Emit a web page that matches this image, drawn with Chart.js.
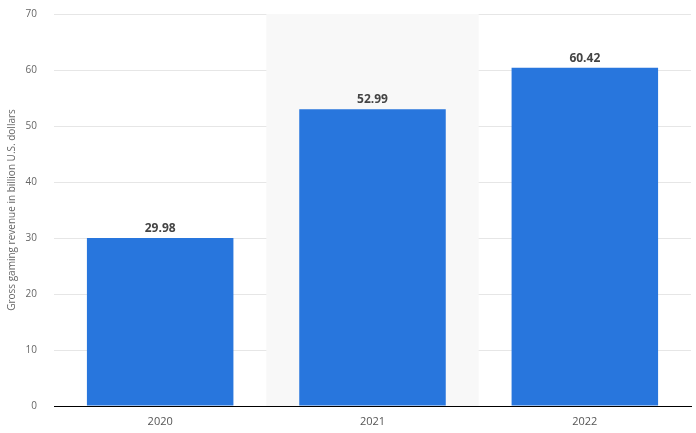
<!DOCTYPE html>
<html>
<head>
<meta charset="utf-8">
<script src="https://cdn.jsdelivr.net/npm/chart.js@4/dist/chart.umd.min.js"></script>
<style>
  html, body { margin: 0; padding: 0; background: #fff; }
  #wrap { width: 696px; height: 433px; }
</style>
</head>
<body>
<div id="wrap"><canvas id="chart"></canvas></div>
<script>
  const years = ["2020", "2021", "2022"];
  const revenue = [29.98, 52.99, 60.42];
  const shadedYear = "2021";

  // light background band behind one category
  const bandPlugin = {
    id: "band",
    beforeDatasetsDraw(chart) {
      const x = chart.scales.x;
      const area = chart.chartArea;
      const i = years.indexOf(shadedYear);
      if (i < 0) return;
      const step = x.getPixelForValue(1) - x.getPixelForValue(0);
      const cx = x.getPixelForValue(i);
      const ctx = chart.ctx;
      ctx.save();
      ctx.fillStyle = "#f8f8f8";
      ctx.fillRect(cx - step / 2, area.top, step, area.bottom - area.top);
      ctx.restore();
    },
  };

  // value labels above each bar
  const labelPlugin = {
    id: "valueLabels",
    afterDatasetsDraw(chart) {
      const ctx = chart.ctx;
      const meta = chart.getDatasetMeta(0);
      ctx.save();
      ctx.font = "bold 12px 'Open Sans', sans-serif";
      ctx.fillStyle = "#444";
      ctx.textAlign = "center";
      ctx.textBaseline = "alphabetic";
      meta.data.forEach((bar, i) => {
        ctx.fillText(revenue[i].toFixed(2), bar.x, bar.y - 6);
      });
      ctx.restore();
    },
  };

  new Chart(document.getElementById("chart"), {
    type: "bar",
    data: {
      labels: years,
      datasets: [
        {
          data: revenue,
          backgroundColor: "#2876dd",
          borderWidth: 0,
          categoryPercentage: 1,
          barPercentage: 0.69,
        },
      ],
    },
    options: {
      responsive: true,
      maintainAspectRatio: false,
      animation: false,
      layout: { padding: { top: 14, right: 5, left: 0, bottom: 0 } },
      plugins: { legend: { display: false }, tooltip: { enabled: false } },
      scales: {
        x: {
          grid: { display: false, drawTicks: false },
          border: { display: true, color: "#000", width: 1 },
          ticks: { color: "#555", font: { family: "'Open Sans', sans-serif", size: 11 }, padding: 9 },
          afterFit: (s) => { s.height = 27; },
        },
        y: {
          min: 0,
          max: 70,
          ticks: { stepSize: 10, color: "#666", font: { family: "'Open Sans', sans-serif", size: 10 }, padding: 17 },
          grid: { color: "#e6e6e6", drawTicks: false },
          border: { display: false },
          title: {
            display: true,
            text: "Gross gaming revenue in billion U.S. dollars",
            color: "#666",
            font: { family: "'Open Sans', sans-serif", size: 10 },
            padding: { top: 6, bottom: 0 },
          },
          afterFit: (s) => {
            s.width = 54;
            s.paddingTop = 0;
            s.paddingBottom = 0;
          },
        },
      },
    },
    plugins: [bandPlugin, labelPlugin],
  });
</script>
</body>
</html>
